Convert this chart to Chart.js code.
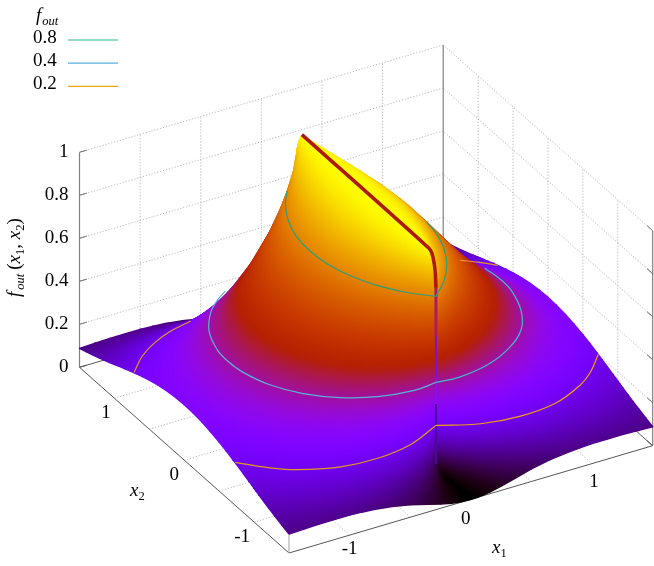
<!DOCTYPE html>
<html>
<head>
<meta charset="utf-8">
<style>html,body{margin:0;padding:0;background:#fff}canvas{display:block}</style>
<script src="https://cdn.jsdelivr.net/npm/chart.js@4"></script>
</head>
<body>
<canvas id="chart_surface" width="654" height="566"></canvas>
<script>
// axis ticks
let zTicks = [0, 0.2, 0.4, 0.6, 0.8, 1];
let gridTicks = [-1, -0.5, 0, 0.5, 1];
let x1TickLabels = ["-1", "0", "1"];
let x2TickLabels = ["1", "0", "-1"];
let legendLevels = ["0.8", "0.4", "0.2"];
let legendColors = ["#2fbb92", "#5aafdc", "#f2a50a"];

// surface heights, one quadrant (the other three mirror it)
let gridX1 = [0, 0.01, 0.03, 0.06, 0.1, 0.16, 0.25, 0.35, 0.5, 0.65, 0.8, 0.9, 1, 1.12, 1.25, 1.37, 1.5];
let gridX2 = [0, 0.12, 0.25, 0.37, 0.5, 0.6, 0.7, 0.78, 0.85, 0.93, 0.97, 1, 1.03, 1.07, 1.15, 1.22, 1.3, 1.4, 1.5];
let heightRows = [
    [1, 1, 0.999, 0.996, 0.988, 0.971, 0.932, 0.875, 0.774, 0.667, 0.566, 0.505, 0.451, 0.393, 0.339, 0.297, 0.258],
    [1, 1, 0.999, 0.995, 0.988, 0.970, 0.931, 0.872, 0.769, 0.662, 0.562, 0.501, 0.447, 0.389, 0.336, 0.294, 0.256],
    [1, 1, 0.999, 0.995, 0.987, 0.967, 0.924, 0.862, 0.755, 0.646, 0.547, 0.487, 0.434, 0.379, 0.327, 0.287, 0.250],
    [1, 0.999, 0.998, 0.994, 0.985, 0.962, 0.913, 0.844, 0.731, 0.621, 0.523, 0.466, 0.415, 0.363, 0.314, 0.276, 0.241],
    [1, 0.999, 0.998, 0.992, 0.980, 0.951, 0.890, 0.811, 0.689, 0.579, 0.486, 0.433, 0.387, 0.339, 0.295, 0.260, 0.228],
    [0.999, 0.999, 0.997, 0.989, 0.973, 0.935, 0.861, 0.770, 0.643, 0.537, 0.451, 0.402, 0.360, 0.316, 0.276, 0.245, 0.216],
    [0.999, 0.999, 0.995, 0.984, 0.958, 0.905, 0.811, 0.709, 0.583, 0.485, 0.409, 0.366, 0.330, 0.291, 0.256, 0.228, 0.202],
    [0.998, 0.998, 0.992, 0.973, 0.933, 0.858, 0.745, 0.641, 0.524, 0.438, 0.372, 0.335, 0.303, 0.270, 0.239, 0.214, 0.191],
    [0.997, 0.995, 0.984, 0.949, 0.884, 0.783, 0.660, 0.564, 0.465, 0.394, 0.338, 0.307, 0.280, 0.251, 0.223, 0.201, 0.180],
    [0.986, 0.980, 0.939, 0.845, 0.732, 0.621, 0.525, 0.460, 0.392, 0.341, 0.299, 0.274, 0.252, 0.228, 0.205, 0.186, 0.168],
    [0.938, 0.916, 0.804, 0.668, 0.574, 0.504, 0.447, 0.404, 0.355, 0.314, 0.279, 0.258, 0.238, 0.217, 0.196, 0.179, 0.162],
    [0.447, 0.446, 0.442, 0.435, 0.425, 0.409, 0.387, 0.362, 0.327, 0.295, 0.264, 0.245, 0.228, 0.208, 0.189, 0.173, 0.157],
    [0.033, 0.046, 0.122, 0.220, 0.283, 0.318, 0.329, 0.322, 0.301, 0.275, 0.250, 0.233, 0.218, 0.200, 0.182, 0.167, 0.152],
    [0.005, 0.008, 0.029, 0.084, 0.153, 0.218, 0.259, 0.271, 0.266, 0.250, 0.231, 0.218, 0.205, 0.189, 0.173, 0.160, 0.146],
    [0.001, 0.001, 0.005, 0.019, 0.049, 0.098, 0.153, 0.186, 0.205, 0.204, 0.196, 0.188, 0.179, 0.168, 0.156, 0.145, 0.134],
    [0, 0.001, 0.002, 0.008, 0.022, 0.052, 0.096, 0.132, 0.160, 0.169, 0.168, 0.164, 0.158, 0.151, 0.142, 0.133, 0.124],
    [0, 0, 0.001, 0.004, 0.011, 0.027, 0.058, 0.088, 0.119, 0.135, 0.140, 0.139, 0.137, 0.132, 0.126, 0.120, 0.113],
    [0, 0, 0, 0.002, 0.005, 0.014, 0.033, 0.055, 0.083, 0.101, 0.110, 0.112, 0.113, 0.112, 0.108, 0.105, 0.100],
    [0, 0, 0, 0.001, 0.003, 0.008, 0.020, 0.035, 0.058, 0.075, 0.086, 0.090, 0.093, 0.093, 0.093, 0.091, 0.088]
];

// contour lines, visible parts only
let level08LeftX1 = [0, -0.157, -0.288, -0.384, -0.444, -0.463, -0.444, -0.384, -0.288, -0.213, -0.186];
let level08LeftX2 = [-1, -0.842, -0.655, -0.448, -0.227, 0, 0.227, 0.448, 0.655, 0.77, 0.807];
let level08RightX1 = [0, 0.157, 0.288, 0.384, 0.444, 0.462];
let level08RightX2 = [-1, -0.842, -0.655, -0.448, -0.227, -0.07];
let level04LeftX1 = [0, -0.19, -0.46, -0.7, -0.9, -1.045, -1.125, -1.14, -1.125, -1.045, -0.9, -0.77, -0.665];
let level04LeftX2 = [-1, -1.02, -0.965, -0.84, -0.66, -0.435, -0.18, 0, 0.18, 0.435, 0.66, 0.785, 0.86];
let level04RightX1 = [0, 0.19, 0.46, 0.7, 0.9, 1.03, 1.105, 1.12, 1.1];
let level04RightX2 = [-1, -1.02, -0.965, -0.84, -0.66, -0.43, -0.175, 0, 0.21];
let level02FrontLeftX1 = [0, -0.289, -0.589, -0.889, -1.169, -1.335, -1.5];
let level02FrontLeftX2 = [-1, -1.14, -1.19, -1.16, -1.04, -0.91, -0.73];
let level02FrontRightX1 = [0, 0.289, 0.589, 0.889, 1.169, 1.335, 1.5];
let level02FrontRightX2 = [-1, -1.14, -1.19, -1.16, -1.03, -0.9, -0.72];
let level02BackLeftX1 = [-1.5, -1.335, -1.169, -0.986, -0.79];
let level02BackLeftX2 = [0.72, 0.889, 1.005, 1.09, 1.142];
let level02BackRightX1 = [1.303, 1.409, 1.5];
let level02BackRightX2 = [0.914, 0.82, 0.72];

// crest along x1 = 0 and the drop at its end
let crestX2 = [0.92, -0.9, -0.94, -0.97, -0.99, -1];
let crestZ = [1, 0.995, 0.985, 0.955, 0.91, 0.84];
let dropZ = [0.84, 0.62, 0.42, 0.3, 0.02];
let dropColors = ["#ab1e5a", "#7d10e0", "#8a10f0", "#4a0a96"];

// x1, x2, z -> canvas pixels, fitted on the box corners
function px(x1, x2, z) { return 366.1 + 121.23 * x1 - 69.83 * x2; }
function py(x1, x2, z) { return 406.5 - 35.77 * x1 - 61.9 * x2 - 215 * z; }
function pt(x1, x2, z) { return {x: px(x1, x2, z), y: py(x1, x2, z)}; }

// gnuplot default palette 7,5,15
function palette(t) {
    t = Math.min(1, Math.max(0, t));
    let r = Math.sqrt(t);
    let g = t * t * t;
    let b = Math.max(0, Math.sin(2 * Math.PI * t));
    return "rgb(" + Math.round(r * 255) + "," + Math.round(g * 255) + "," + Math.round(b * 255) + ")";
}

let canvas = document.getElementById("chart_surface");
let gctx = canvas.getContext("2d");

function triangleGradient(a, b, c) {
    let tmin = Math.min(a.z, b.z, c.z);
    let tmax = Math.max(a.z, b.z, c.z);
    let ux = b.x - a.x, uy = b.y - a.y, vx = c.x - a.x, vy = c.y - a.y;
    let det = ux * vy - vx * uy;
    if (tmax - tmin < 0.002 || Math.abs(det) < 1e-6) return palette((tmin + tmax) / 2);
    // z gradient in screen space
    let gx = ((b.z - a.z) * vy - (c.z - a.z) * uy) / det;
    let gy = (ux * (c.z - a.z) - vx * (b.z - a.z)) / det;
    let g2 = gx * gx + gy * gy;
    let s0 = (tmin - a.z) / g2, s1 = (tmax - a.z) / g2;
    let grad = gctx.createLinearGradient(a.x + gx * s0, a.y + gy * s0, a.x + gx * s1, a.y + gy * s1);
    let n = Math.ceil((tmax - tmin) / 0.04) + 1;
    for (let i = 0; i <= n; i++) {
        grad.addColorStop(i / n, palette(tmin + (tmax - tmin) * i / n));
    }
    return grad;
}

// full mesh from the quadrant table
let meshX1 = gridX1.slice(1).reverse().map(v => -v).concat(gridX1);
let meshX2 = gridX2.slice(1).reverse().map(v => -v).concat(gridX2);
function node(i, j) {
    let x1 = meshX1[i], x2 = meshX2[j];
    let z = heightRows[gridX2.indexOf(Math.abs(x2))][gridX1.indexOf(Math.abs(x1))];
    return {x1: x1, x2: x2, z: z, x: px(x1, x2, z), y: py(x1, x2, z)};
}

let triangles = [];
function addTriangle(a, b, c) {
    let depth = (a.x1 + b.x1 + c.x1) + 1.736 * (a.x2 + b.x2 + c.x2) - 0.666 * (a.z + b.z + c.z);
    triangles.push({a: a, b: b, c: c, depth: depth});
}
for (let i = 0; i < meshX1.length - 1; i++) {
    for (let j = 0; j < meshX2.length - 1; j++) {
        let p00 = node(i, j), p10 = node(i + 1, j), p11 = node(i + 1, j + 1), p01 = node(i, j + 1);
        if (Math.abs(p00.z - p11.z) <= Math.abs(p10.z - p01.z)) {
            addTriangle(p00, p10, p11);
            addTriangle(p00, p11, p01);
        } else {
            addTriangle(p00, p10, p01);
            addTriangle(p10, p11, p01);
        }
    }
}
triangles.sort((p, q) => p.depth - q.depth);

function lineSet(points, color, width, dash, tension) {
    return {
        data: points,
        showLine: true,
        pointRadius: 0,
        borderColor: color,
        borderWidth: width,
        borderDash: dash || [],
        fill: false,
        tension: tension || 0
    };
}
function contour(x1s, x2s, level, color) {
    return lineSet(x1s.map((v, i) => pt(v, x2s[i], level)), color, 1.2, [], 0.4);
}

// first dataset ends up on top
let datasets = [];
datasets.push(contour(level08LeftX1, level08LeftX2, 0.8, "#2a9f80"));
datasets.push(contour(level08RightX1, level08RightX2, 0.8, "#2a9f80"));
datasets.push(contour(level04LeftX1, level04LeftX2, 0.4, "#5ab4d6"));
datasets.push(contour(level04RightX1, level04RightX2, 0.4, "#45b8c8"));
datasets.push(contour(level02FrontLeftX1, level02FrontLeftX2, 0.2, "#e09a20"));
datasets.push(contour(level02FrontRightX1, level02FrontRightX2, 0.2, "#f0a010"));
datasets.push(contour(level02BackLeftX1, level02BackLeftX2, 0.2, "#e09a20"));
datasets.push(contour(level02BackRightX1, level02BackRightX2, 0.2, "#e09a20"));

datasets.push(lineSet(crestX2.map((v, i) => pt(0, v, crestZ[i])), "#ad1a0c", 3.6, [], 0.3));
for (let i = 0; i < dropColors.length; i++) {
    datasets.push(lineSet([pt(0, -1, dropZ[i]), pt(0, -1, dropZ[i + 1])], dropColors[i], i == 0 ? 3 : 2));
}

triangles.forEach(t => {
    let grad = triangleGradient(t.a, t.b, t.c);
    datasets.push({
        data: [t.a, t.b, t.c, t.a].map(p => ({x: p.x, y: p.y})),
        showLine: true,
        pointRadius: 0,
        borderWidth: 1.4,
        borderColor: grad,
        backgroundColor: grad,
        borderJoinStyle: "round",
        fill: "shape",
        tension: 0
    });
});

// box, grid and ticks behind the surface
let axisGray = "#808080", baseGray = "#555555", gridGray = "#a8a8a8", dots = [1.2, 1.8];
zTicks.forEach(z => {
    if (z > 0) datasets.push(lineSet([pt(-1.5, 1.5, z), pt(1.5, 1.5, z), pt(1.5, -1.5, z)], gridGray, 0.8, dots));
    datasets.push(lineSet([pt(-1.5, 1.5, z), pt(-1.44, 1.5, z)], baseGray, 1));
    datasets.push(lineSet([pt(1.5, -1.5, z), pt(1.5, -1.42, z)], baseGray, 1));
});
gridTicks.forEach(v => {
    datasets.push(lineSet([pt(v, 1.5, 0), pt(v, 1.5, 1)], gridGray, 0.8, dots));
    datasets.push(lineSet([pt(1.5, v, 0), pt(1.5, v, 1)], gridGray, 0.8, dots));
    datasets.push(lineSet([pt(v, -1.5, 0), pt(v, 1.5, 0)], gridGray, 0.8, dots));
    datasets.push(lineSet([pt(-1.5, v, 0), pt(1.5, v, 0)], gridGray, 0.8, dots));
});
datasets.push(lineSet([pt(-1.5, 1.5, 0), pt(-1.5, 1.5, 1)], axisGray, 1.2));
datasets.push(lineSet([pt(1.5, 1.5, 0), pt(1.5, 1.5, 1)], axisGray, 1.2));
datasets.push(lineSet([pt(1.5, -1.5, 0), pt(1.5, -1.5, 1)], axisGray, 1.2));
datasets.push(lineSet([pt(-1.5, -1.5, 0), pt(-1.5, -1.5, 0.09)], "#b0b0b0", 1.2));
datasets.push(lineSet([pt(-1.5, 1.5, 0), pt(-1.5, -1.5, 0), pt(1.5, -1.5, 0), pt(1.5, 1.5, 0), pt(-1.5, 1.5, 0)], baseGray, 1));

const SERIF = '"Liberation Serif"';
function putText(ctx, s, x, y, size, italic, align) {
    ctx.font = (italic ? "italic " : "") + size + "px " + SERIF;
    ctx.textAlign = align || "left";
    ctx.fillText(s, x, y);
    return ctx.measureText(s).width;
}
// run of normal + subscript pieces from the current origin
function putRun(ctx, pieces, x, y) {
    pieces.forEach(p => {
        let size = p.sub ? 12.5 : 19;
        x += putText(ctx, p.s, x, y + (p.sub ? 4 : 0), size, p.it) + (p.gap || 0);
    });
}

let labelsPlugin = {
    id: "labels",
    afterDraw(chart) {
        let ctx = chart.ctx;
        ctx.save();
        ctx.fillStyle = "#000";
        ctx.textBaseline = "alphabetic";

        zTicks.forEach(z => {
            putText(ctx, String(z), 68.5, py(-1.5, 1.5, z) + 5, 19, false, "right");
        });
        [-1, 0, 1].forEach((v, i) => {
            let p = pt(v, -1.5, 0);
            putText(ctx, x1TickLabels[i], p.x + [0, -5, 2][i], p.y + [19, 25, 23][i], 19, false, "center");
        });
        [1, 0, -1].forEach((v, i) => {
            let p = pt(-1.5, v, 0);
            putText(ctx, x2TickLabels[i], p.x + [-8.5, -10, -12][i], p.y + [20, 19.5, 19.5][i], 19, false, "center");
        });

        putRun(ctx, [{s: "x", it: true}, {s: "1", sub: true}], 492, 553);
        putRun(ctx, [{s: "x", it: true}, {s: "2", sub: true}], 130, 496);

        // legend
        putRun(ctx, [{s: "f", it: true, gap: 1}, {s: "out", sub: true, it: true}], 36, 21);
        legendLevels.forEach((s, i) => {
            let y = 40 + i * 23.2;
            putText(ctx, s, 33, y + 2.5, 19);
            ctx.strokeStyle = legendColors[i];
            ctx.lineWidth = 1.2;
            ctx.beginPath();
            ctx.moveTo(68, y);
            ctx.lineTo(118, y);
            ctx.stroke();
        });

        // y label
        ctx.translate(20, 297);
        ctx.rotate(-Math.PI / 2);
        putRun(ctx, [
            {s: "f", it: true, gap: 2}, {s: "out", sub: true, it: true, gap: 4},
            {s: "("}, {s: "x", it: true}, {s: "1", sub: true}, {s: ","}, {s: " "},
            {s: "x", it: true}, {s: "2", sub: true}, {s: ")"}
        ], 0, 0);
        ctx.restore();
    }
};

var ChartSurface = new Chart("chart_surface", {
    type: "scatter",
    data: {datasets: datasets},
    options: {
        responsive: false,
        animation: false,
        events: [],
        layout: {padding: 0},
        scales: {
            x: {type: "linear", display: false, min: 0, max: 654},
            y: {type: "linear", display: false, min: 0, max: 566, reverse: true}
        },
        plugins: {
            legend: {display: false},
            tooltip: {enabled: false}
        }
    },
    plugins: [labelsPlugin]
});
</script>
</body>
</html>
